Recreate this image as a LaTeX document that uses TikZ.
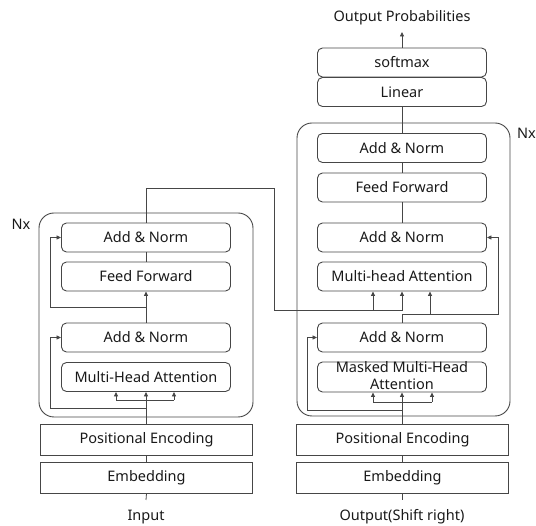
\documentclass[tikz,border=0pt]{standalone}
\usepackage{fontspec}
\setmainfont{Noto Sans}
\usetikzlibrary{arrows.meta}
\definecolor{ln}{RGB}{70,70,70}
\definecolor{tx}{RGB}{25,25,25}
\tikzset{
  box/.style={draw=ln, line width=0.9pt, rounded corners=5pt, minimum width=169pt, minimum height=29pt, inner sep=0pt, text=tx, font=\fontsize{14.5}{17}\selectfont},
  flatbox/.style={draw=ln, line width=0.9pt, minimum width=212pt, minimum height=31pt, inner sep=0pt, text=tx, font=\fontsize{14.5}{17}\selectfont},
  cont/.style={draw=ln, line width=0.9pt, rounded corners=15pt, inner sep=0pt},
  lbl/.style={text=tx, inner sep=0pt, font=\fontsize{14.5}{17}\selectfont},
  arr/.style={draw=ln, line width=0.8pt, -{Triangle[length=4.5pt,width=4pt]}},
  wire/.style={draw=ln, line width=0.8pt},
}
\begin{document}
\begin{tikzpicture}[x=1pt,y=-1pt]
\useasboundingbox (0,0) rectangle (536,526);
% containers
\node[cont, minimum width=214pt, minimum height=204pt] (encC) at (146,315) {};
\node[cont, minimum width=213pt, minimum height=293pt] (decC) at (403.5,269.5) {};
\node[lbl, anchor=center] (nxL) at (21,224) {Nx};
\node[lbl, anchor=west] (nxR) at (517,133) {Nx};
% encoder
\node[box] (encAN2) at (146,237.5) {Add \& Norm};
\node[box] (encFF) at (146,276.5) {Feed Forward};
\node[box] (encAN1) at (146,337.5) {Add \& Norm};
\node[box] (encMHA) at (146,377) {Multi-Head Attention};
\node[flatbox] (encPE) at (146.5,439.5) {Positional Encoding};
\node[flatbox] (encEmb) at (146.5,477.5) {Embedding};
\node[lbl] (inp) at (146,517) {Input};
% decoder
\node[box] (soft) at (402,62.5) {softmax};
\node[box] (lin) at (402,92) {Linear};
\node[lbl] (outp) at (402,18) {Output Probabilities};
\node[box] (decAN3) at (402,148) {Add \& Norm};
\node[box] (decFF) at (402,187.5) {Feed Forward};
\node[box] (decAN2) at (402,237.5) {Add \& Norm};
\node[box] (decMHA) at (402,276.5) {Multi-head Attention};
\node[box] (decAN1) at (402,337.5) {Add \& Norm};
\node[draw=ln, line width=0.9pt, rounded corners=5pt, minimum width=169pt, minimum height=30pt, inner sep=0pt] (decMMHA) at (402,377) {};
\node[lbl, align=center, font=\fontsize{14.5}{17}\selectfont] (mmhaT) at (402,376) {Masked Multi-Head\\Attention};
\node[flatbox] (decPE) at (402.5,439.5) {Positional Encoding};
\node[flatbox] (decEmb) at (402.5,477.5) {Embedding};
\node[lbl] (outs) at (402,517) {Output(Shift right)};
% coordinates
\coordinate (x116) at (116,0);
\coordinate (x174) at (174,0);
\coordinate (x373) at (373,0);
\coordinate (x432) at (432,0);
\coordinate (x430) at (430,0);
% encoder wires
\draw[wire] (encEmb.south) -- (146,500);
\draw[wire] (encEmb.north -| 146,0) -- (encPE.south -| 146,0);
\draw[arr] (encPE.north -| 146,0) -- (encMHA.south);
\draw[wire] (116,400) -- (174,400);
\draw[arr] (116,400) -- (encMHA.south -| x116);
\draw[arr] (174,400) -- (encMHA.south -| x174);
\draw[arr] (146,408) -- (50,408) |- (encAN1.west);
\draw[arr] (encAN1.north) -- (encFF.south);
\draw[arr] (146,307) -- (50,307) |- (encAN2.west);
\draw[wire] (encFF.north) -- (encAN2.south);
% cross connection
\draw[arr] (encAN2.north) -- (146,188) -- (274,188) -- (274,310) -- (402,310) -- (decMHA.south);
\draw[arr] (373,310) -- (decMHA.south -| x373);
% decoder wires
\draw[wire] (decEmb.south -| 402,0) -- (402,500);
\draw[wire] (decEmb.north -| 402,0) -- (decPE.south -| 402,0);
\draw[arr] (decPE.north -| 402,0) -- (decMMHA.south);
\draw[wire] (373,402) -- (432,402);
\draw[arr] (373,402) -- (decMMHA.south -| x373);
\draw[arr] (432,402) -- (decMMHA.south -| x432);
\draw[arr] (402,410) -- (307,410) |- (decAN1.west);
\draw[arr] (decAN1.north) -- (402,314) -- (498,314) |- (decAN2.east);
\draw[arr] (430,314) -- (decMHA.south -| x430);
\draw[wire] (decAN2.north) -- (decFF.south);
\draw[wire] (decFF.north) -- (decAN3.south);
\draw[wire] (decAN3.north) -- (lin.south);
\draw[arr] (soft.north) -- (402,32);
\end{tikzpicture}
\end{document}
